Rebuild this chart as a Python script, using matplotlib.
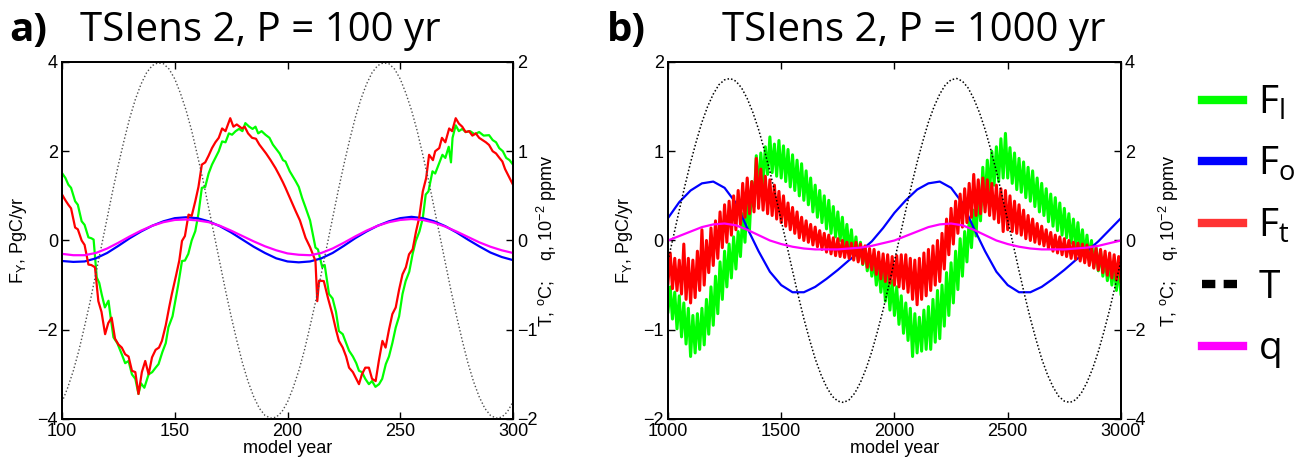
import numpy as np
import matplotlib
matplotlib.use("Agg")
import matplotlib.pyplot as plt
from matplotlib import rcParams
from matplotlib.lines import Line2D

rcParams['font.family'] = ['Liberation Sans', 'DejaVu Sans']
rcParams['font.size'] = 13

# ---------------- panel a data (P = 100 yr) ----------------
yr_a = np.arange(100, 301, 5)
yr_a_T = np.arange(100, 300.1, 2.5)
# T, degC (right axis)
T_a = [-1.81, -1.65, -1.46, -1.23, -0.96, -0.68, -0.37, -0.06, 0.25, 0.56,
       0.85, 1.12, 1.37, 1.58, 1.75, 1.88, 1.96, 1.99, 1.98, 1.92,
       1.81, 1.65, 1.46, 1.23, 0.96, 0.68, 0.37, 0.06, -0.25, -0.56,
       -0.85, -1.12, -1.37, -1.58, -1.75, -1.88, -1.96, -1.99, -1.98, -1.92,
       -1.81, -1.65, -1.46, -1.23, -0.96, -0.68, -0.37, -0.06, 0.25, 0.56,
       0.85, 1.12, 1.37, 1.58, 1.75, 1.88, 1.96, 1.99, 1.98, 1.92,
       1.81, 1.65, 1.46, 1.23, 0.96, 0.68, 0.37, 0.06, -0.25, -0.56,
       -0.85, -1.12, -1.37, -1.58, -1.75, -1.88, -1.96, -1.99, -1.98, -1.92,
       -1.81]
# F_o, PgC/yr (left axis)
Fo_a = [-0.46, -0.48, -0.47, -0.40, -0.28, -0.12, 0.05, 0.20, 0.33, 0.43,
        0.50, 0.52, 0.50, 0.43, 0.32, 0.18, 0.02, -0.14, -0.28, -0.40,
        -0.47, -0.49, -0.47, -0.40, -0.28, -0.12, 0.05, 0.20, 0.33, 0.43,
        0.50, 0.53, 0.50, 0.43, 0.32, 0.18, 0.02, -0.13, -0.27, -0.37,
        -0.44]
# q, 10^-2 ppmv (right axis)
q_a = [-0.15, -0.165, -0.165, -0.14, -0.09, -0.025, 0.045, 0.11, 0.165, 0.205,
       0.23, 0.235, 0.225, 0.205, 0.165, 0.11, 0.05, -0.01, -0.065, -0.11,
       -0.145, -0.16, -0.165, -0.14, -0.09, -0.025, 0.045, 0.11, 0.165, 0.205,
       0.23, 0.24, 0.23, 0.20, 0.155, 0.10, 0.04, -0.02, -0.07, -0.11,
       -0.14]
# F_l (green) as (year, value)
Fl_a_pts = [(100, 1.51), (101.5, 1.40), (102.8, 1.25), (104, 1.18), (105.8, 0.88),
            (107, 0.80), (108.7, 0.43), (110, 0.35), (111.7, 0.07), (113, 0.05),
            (114, 0.02), (115.4, -0.83), (116.5, -0.95), (117.6, -1.21), (119, -1.50),
            (120.6, -1.35), (121.5, -1.7), (122.8, -2.17), (124.5, -2.3), (126.5, -2.55),
            (128, -2.75), (129.5, -2.70), (131, -3.0), (132.5, -3.1), (133.9, -3.44),
            (135, -3.2), (136.5, -3.3), (138.4, -3.0), (140, -2.95), (141.5, -2.85),
            (142.8, -2.77), (144.5, -2.5), (146, -2.3), (147.2, -1.94), (149, -1.7),
            (150.2, -1.36), (151.5, -1.0), (153.2, -0.46), (154.5, -0.45), (156, -0.3),
            (157.5, 0.0), (159.1, 0.21), (160.5, 0.6), (162, 1.18), (163.5, 1.2),
            (165, 1.5), (166.5, 1.7), (168, 1.85), (169.5, 2.0), (171, 2.22),
            (172.5, 2.2), (174, 2.4), (175.4, 2.37), (177, 2.45), (178.5, 2.5),
            (180, 2.45), (181.3, 2.63), (183, 2.55), (184.5, 2.5), (185.8, 2.55),
            (187, 2.4), (188.5, 2.45), (190.2, 2.37), (192, 2.3), (193.5, 2.15),
            (194.7, 2.07), (196.5, 1.95), (198, 1.8), (199.1, 1.77), (201, 1.55),
            (203.6, 1.33), (205, 1.2), (206.5, 0.95), (208, 0.74), (210, 0.45),
            (212.4, -0.16), (213.5, -0.2), (215.4, -0.6), (216.5, -0.55), (218.4, -1.2),
            (220, -1.3), (221.5, -1.6), (222.8, -2.03), (224.5, -2.1), (226, -2.3),
            (227.3, -2.47), (229, -2.6), (230.5, -2.75), (231.7, -2.92), (233, -2.95),
            (234.5, -3.1), (236.1, -3.22), (237.5, -3.15), (239, -3.28), (240.6, -3.22),
            (242, -3.1), (243.6, -2.77), (245, -2.6), (246.5, -2.3), (248, -1.95),
            (249.5, -1.7), (251, -1.2), (252.4, -0.91), (254, -0.7), (255.5, -0.3),
            (256.9, -0.01), (258.5, 0.2), (260, 0.5), (261.3, 1.03), (262.5, 1.1),
            (264.3, 1.55), (265.5, 1.5), (267, 1.7), (268.7, 1.92), (270, 1.85),
            (271.5, 2.1), (272.5, 1.75), (273.2, 2.3), (274.6, 2.58), (276, 2.45),
            (277.5, 2.5), (279, 2.43), (281, 2.45), (283, 2.38), (285, 2.43),
            (287, 2.35), (289.4, 2.36), (291, 2.25), (292.5, 2.2), (293.9, 2.07),
            (295.5, 2.0), (297, 1.85), (298.5, 1.8), (300, 1.7)]
# F_t (red) as (year, value)
Ft_a_pts = [(100, 1.03), (101.5, 0.9), (102.8, 0.8), (104, 0.72), (105.8, 0.29),
            (107, 0.25), (108.7, 0.0), (110, -0.1), (111.7, -0.54), (113, -0.55),
            (114.6, -0.6), (116.1, -1.36), (117.5, -1.6), (119.1, -2.1), (120.5, -1.85),
            (122, -1.73), (123.5, -2.2), (125, -2.33), (126.5, -2.4), (128, -2.55),
            (129.5, -2.6), (131, -2.92), (132.5, -2.95), (133.9, -3.44), (135.4, -2.95),
            (136.9, -2.7), (138.4, -3.0), (139.9, -2.62), (141.5, -2.45), (143, -2.4),
            (144.3, -2.25), (146, -1.9), (147.5, -1.5), (148.7, -1.2), (150.5, -0.8),
            (152, -0.45), (153.2, -0.01), (154.5, 0.1), (156.1, 0.58), (157.5, 0.55),
            (159.1, 0.88), (160.5, 1.2), (162, 1.7), (163.5, 1.75), (165, 1.9),
            (166.5, 2.07), (168, 2.2), (169.5, 2.3), (171, 2.51), (172.5, 2.45),
            (174.6, 2.74), (176, 2.55), (177.5, 2.6), (179.8, 2.51), (181, 2.55),
            (182.5, 2.4), (184.3, 2.3), (186, 2.28), (187.5, 2.15), (188.7, 2.07),
            (190.5, 1.95), (192.5, 1.8), (194.7, 1.62), (196.5, 1.45), (198, 1.3),
            (199.1, 1.18), (201.5, 0.9), (203.6, 0.66), (205.5, 0.45), (208, 0.06),
            (210, -0.15), (212.4, -0.46), (213.2, -1.36), (214, -0.9), (216.1, -0.91),
            (218, -1.3), (219.9, -1.65), (221.5, -2.0), (222.8, -2.25), (224.5, -2.4),
            (226, -2.6), (227.3, -2.85), (229, -2.95), (230.5, -3.1), (231.7, -3.22),
            (233, -3.0), (234.5, -2.85), (236.1, -2.85), (237.5, -3.1), (239.1, -3.15),
            (240.5, -2.7), (242.1, -2.25), (243.5, -2.4), (245, -2.0), (246.5, -1.65),
            (248, -1.5), (249.5, -1.1), (251, -0.76), (252.5, -0.6), (253.9, -0.31),
            (255.5, -0.2), (257, 0.2), (258.4, 0.51), (260, 1.1), (261.5, 1.4),
            (262.8, 1.92), (264.5, 1.8), (265.5, 2.0), (267.3, 2.07), (268.5, 2.3),
            (270, 2.2), (271.7, 2.51), (273, 2.45), (274.6, 2.74), (276, 2.62),
            (277.5, 2.55), (279, 2.43), (280.5, 2.45), (282, 2.35), (283.5, 2.4),
            (285, 2.3), (286.5, 2.25), (288, 2.2), (289.4, 2.14), (291, 2.0),
            (292.5, 1.95), (294, 1.85), (295.3, 1.77), (296.5, 1.6), (298, 1.45),
            (299, 1.35), (300, 1.25)]

# ---------------- panel b data (P = 1000 yr) ----------------
yr_b = np.arange(1000, 3001, 50)
yr_b_T = np.arange(1000, 3001, 25)
T_b = [-0.45, 0.11, 0.68, 1.23, 1.75, 2.22, 2.65, 3.00, 3.28, 3.49,
       3.60, 3.63, 3.57, 3.42, 3.18, 2.87, 2.49, 2.04, 1.55, 1.01,
       0.45, -0.11, -0.68, -1.23, -1.75, -2.22, -2.65, -3.00, -3.28, -3.49,
       -3.60, -3.63, -3.57, -3.42, -3.18, -2.87, -2.49, -2.04, -1.55, -1.01,
       -0.45, 0.11, 0.68, 1.23, 1.75, 2.22, 2.65, 3.00, 3.28, 3.49,
       3.60, 3.63, 3.57, 3.42, 3.18, 2.87, 2.49, 2.04, 1.55, 1.01,
       0.45, -0.11, -0.68, -1.23, -1.75, -2.22, -2.65, -3.00, -3.28, -3.49,
       -3.60, -3.63, -3.57, -3.42, -3.18, -2.87, -2.49, -2.04, -1.55, -1.01,
       -0.45]
Fo_b = [0.25, 0.43, 0.56, 0.64, 0.66, 0.59, 0.42, 0.14, -0.12, -0.35,
        -0.50, -0.58, -0.58, -0.52, -0.43, -0.33, -0.22, -0.12, -0.01, 0.14,
        0.31, 0.45, 0.57, 0.64, 0.66, 0.59, 0.42, 0.14, -0.12, -0.35,
        -0.50, -0.58, -0.58, -0.52, -0.43, -0.33, -0.22, -0.12, -0.01, 0.12,
        0.25]
q_b = [0.0, 0.1, 0.2, 0.3, 0.36, 0.38, 0.34, 0.24, 0.12, 0.0,
       -0.08, -0.14, -0.18, -0.2, -0.2, -0.2, -0.18, -0.16, -0.12, -0.06,
       0.0, 0.1, 0.2, 0.3, 0.36, 0.38, 0.34, 0.24, 0.12, 0.0,
       -0.08, -0.14, -0.18, -0.2, -0.2, -0.2, -0.18, -0.16, -0.12, -0.06,
       0.0]
# noisy fluxes, every 10 years
yr_b10 = np.arange(1000, 3001, 10)
Fl_b = [-0.80, -0.52, -0.88, -0.58, -0.99, -0.62, -1.08, -0.70, -1.16, -0.76,
        -1.30, -0.84, -1.26, -0.82, -1.22, -0.76, -1.17, -0.66, -1.05, -0.52,
        -0.95, -0.40, -0.82, -0.24, -0.66, -0.12, -0.52, -0.04, -0.42, 0.04,
        -0.32, 0.10, -0.18, 0.30, -0.02, 0.48, 0.12, 0.66, 0.38, 0.95,
        0.55, 0.98, 0.64, 1.05, 0.74, 1.16, 0.76, 1.08, 0.72, 1.12,
        0.70, 1.06, 0.66, 1.02, 0.60, 0.96, 0.56, 0.90, 0.50, 0.86,
        0.45, 0.78, 0.40, 0.70, 0.32, 0.62, 0.26, 0.56, 0.20, 0.50,
        0.13, 0.45, 0.08, 0.38, 0.04, 0.32, 0.00, 0.26, -0.08, 0.18,
        -0.13, 0.12, -0.18, 0.04, -0.22, -0.02, -0.27, -0.08, -0.34, -0.15,
        -0.40, -0.20, -0.50, -0.26, -0.58, -0.30, -0.68, -0.38, -0.78, -0.45,
        -0.84, -0.52, -0.94, -0.62, -1.04, -0.70, -1.12, -0.76, -1.30, -0.82,
        -1.26, -0.86, -1.24, -0.78, -1.22, -0.74, -1.22, -0.66, -1.14, -0.56,
        -1.10, -0.50, -0.96, -0.36, -0.84, -0.25, -0.70, -0.12, -0.55, 0.02,
        -0.40, 0.10, -0.24, 0.24, -0.08, 0.34, 0.05, 0.55, 0.22, 0.82,
        0.40, 0.90, 0.52, 1.00, 0.62, 1.05, 0.66, 1.14, 0.70, 1.20,
        0.70, 1.04, 0.64, 0.98, 0.57, 0.92, 0.54, 0.88, 0.48, 0.82,
        0.44, 0.78, 0.38, 0.70, 0.32, 0.64, 0.28, 0.58, 0.21, 0.52,
        0.16, 0.48, 0.11, 0.42, 0.06, 0.36, 0.03, 0.30, -0.03, 0.24,
        -0.07, 0.20, -0.12, 0.12, -0.18, 0.06, -0.22, 0.00, -0.30, -0.07,
        -0.34, -0.12, -0.40, -0.18, -0.45, -0.24, -0.50, -0.27, -0.56, -0.30,
        -0.60]
Ft_b = [-0.48, -0.14, -0.54, -0.20, -0.56, -0.22, -0.60, -0.04, -0.66, -0.20,
        -0.70, -0.22, -0.64, -0.12, -0.56, 0.12, -0.50, 0.00, -0.36, 0.14,
        -0.28, 0.22, -0.20, 0.32, -0.08, 0.40, -0.02, 0.44, 0.06, 0.50,
        0.12, 0.56, 0.18, 0.64, 0.26, 0.70, 0.30, 0.66, 0.32, 0.92,
        0.36, 0.80, 0.34, 0.72, 0.30, 0.68, 0.28, 0.62, 0.24, 0.55,
        0.20, 0.50, 0.16, 0.42, 0.12, 0.37, 0.08, 0.32, 0.03, 0.26,
        0.00, 0.22, -0.02, 0.18, -0.05, 0.15, -0.07, 0.11, -0.10, 0.08,
        -0.13, 0.06, -0.15, 0.03, -0.17, 0.02, -0.18, 0.00, -0.19, -0.02,
        -0.20, -0.03, -0.22, -0.02, -0.24, -0.04, -0.26, -0.06, -0.30, -0.09,
        -0.33, -0.10, -0.38, -0.13, -0.43, -0.15, -0.46, -0.16, -0.48, -0.18,
        -0.50, -0.17, -0.52, -0.16, -0.54, -0.16, -0.58, -0.20, -0.66, -0.22,
        -0.72, -0.20, -0.66, -0.14, -0.62, -0.10, -0.56, -0.06, -0.50, 0.00,
        -0.46, 0.08, -0.32, 0.24, -0.16, 0.36, -0.04, 0.44, 0.08, 0.52,
        0.15, 0.58, 0.20, 0.64, 0.26, 0.74, 0.28, 0.68, 0.30, 0.70,
        0.32, 0.68, 0.28, 0.64, 0.24, 0.62, 0.20, 0.58, 0.10, 0.56,
        0.12, 0.50, 0.10, 0.44, 0.08, 0.40, 0.06, 0.34, 0.02, 0.28,
        0.00, 0.24, -0.02, 0.19, -0.04, 0.16, -0.06, 0.12, -0.09, 0.09,
        -0.12, 0.06, -0.14, 0.04, -0.16, 0.02, -0.18, 0.00, -0.20, -0.02,
        -0.21, -0.03, -0.23, -0.04, -0.25, -0.05, -0.28, -0.07, -0.31, -0.09,
        -0.33, -0.10, -0.36, -0.12, -0.39, -0.14, -0.42, -0.16, -0.44, -0.18,
        -0.46]

c_l = '#00ff00'
c_o = '#0000ff'
c_t = '#ff0000'
c_q = '#ff00ff'

right_label = r'T, $\mathregular{^oC}$;    q, 10$\mathregular{^{-2}}$ ppmv'
left_label = r'F$\mathregular{_Y}$, PgC/yr'


def style_axes(ax, axr, xticks, yticks, yrticks, rpad):
    ax.set_xticks(xticks)
    ax.set_yticks(yticks)
    axr.set_yticks(yrticks)
    ax.set_xlim(xticks[0], xticks[-1])
    ax.set_ylim(yticks[0], yticks[-1])
    axr.set_ylim(yrticks[0], yrticks[-1])
    ax.tick_params(axis='both', direction='in', length=5, width=1, top=True, pad=3)
    axr.tick_params(axis='y', direction='in', length=5, width=1, pad=3)
    for sp in ax.spines.values():
        sp.set_linewidth(1.3)
    for sp in axr.spines.values():
        sp.set_linewidth(1.3)
    ax.set_xlabel('model year', labelpad=0)
    ax.set_ylabel(left_label, labelpad=6)
    axr.set_ylabel(right_label, labelpad=rpad)


fig = plt.figure(figsize=(12.98, 4.66), dpi=100)

# ---- panel a
ax1 = fig.add_axes([0.0478, 0.1009, 0.3474, 0.7661])
ax1r = ax1.twinx()
x, y = zip(*Fl_a_pts)
ax1.plot(x, y, color=c_l, lw=1.6)
ax1.plot(yr_a, Fo_a, color=c_o, lw=1.6)
x, y = zip(*Ft_a_pts)
ax1.plot(x, y, color=c_t, lw=1.6)
ax1r.plot(yr_a_T, T_a, color='0.3', lw=1.0, linestyle=(0, (1, 1.6)))
ax1r.plot(yr_a, q_a, color=c_q, lw=1.6)
style_axes(ax1, ax1r, [100, 150, 200, 250, 300], [-4, -2, 0, 2, 4], [-2, -1, 0, 1, 2], -2)

# ---- panel b
ax2 = fig.add_axes([0.5146, 0.1009, 0.3490, 0.7661])
ax2r = ax2.twinx()
ax2.plot(yr_b10, Fl_b, color=c_l, lw=2.2)
ax2.plot(yr_b, Fo_b, color=c_o, lw=1.6)
ax2.plot(yr_b10, Ft_b, color=c_t, lw=2.2)
ax2r.plot(yr_b_T, T_b, color='k', lw=1.1, linestyle=(0, (1, 1.4)))
ax2r.plot(yr_b, q_b, color=c_q, lw=1.6)
style_axes(ax2, ax2r, [1000, 1500, 2000, 2500, 3000], [-2, -1, 0, 1, 2], [-4, -2, 0, 2, 4], 8)

# ---- titles
tfont = ['Open Sans', 'DejaVu Sans']
ty = 1 - 41 / 466
fig.text(9 / 1298, ty, 'a)', fontsize=29, fontweight='bold', family=tfont, va='baseline')
fig.text(80 / 1298, ty, 'TSIens 2, P = 100 yr', fontsize=29, family=tfont, va='baseline')
fig.text(607 / 1298, ty, 'b)', fontsize=29, fontweight='bold', family=tfont, va='baseline')
fig.text(722 / 1298, ty, 'TSIens 2, P = 1000 yr', fontsize=29, family=tfont, va='baseline')

# ---- legend
handles = [Line2D([], [], color=c_l, lw=6),
           Line2D([], [], color=c_o, lw=6),
           Line2D([], [], color=c_t, lw=6, alpha=0.8),
           Line2D([], [], color='k', lw=6, linestyle=(0, (1.6, 1.0))),
           Line2D([], [], color=c_q, lw=6)]
labels = [r'F$\mathregular{_l}$', r'F$\mathregular{_o}$', r'F$\mathregular{_t}$', 'T', 'q']
leg = fig.legend(handles, labels, loc='upper left', bbox_to_anchor=(1202 / 1298, 1 - 84 / 466),
                 frameon=False, prop={'family': tfont, 'size': 28},
                 borderpad=0, borderaxespad=0,
                 handlelength=1.05, handletextpad=0.4, labelspacing=0.6)

fig.savefig('out.png', dpi=100)
